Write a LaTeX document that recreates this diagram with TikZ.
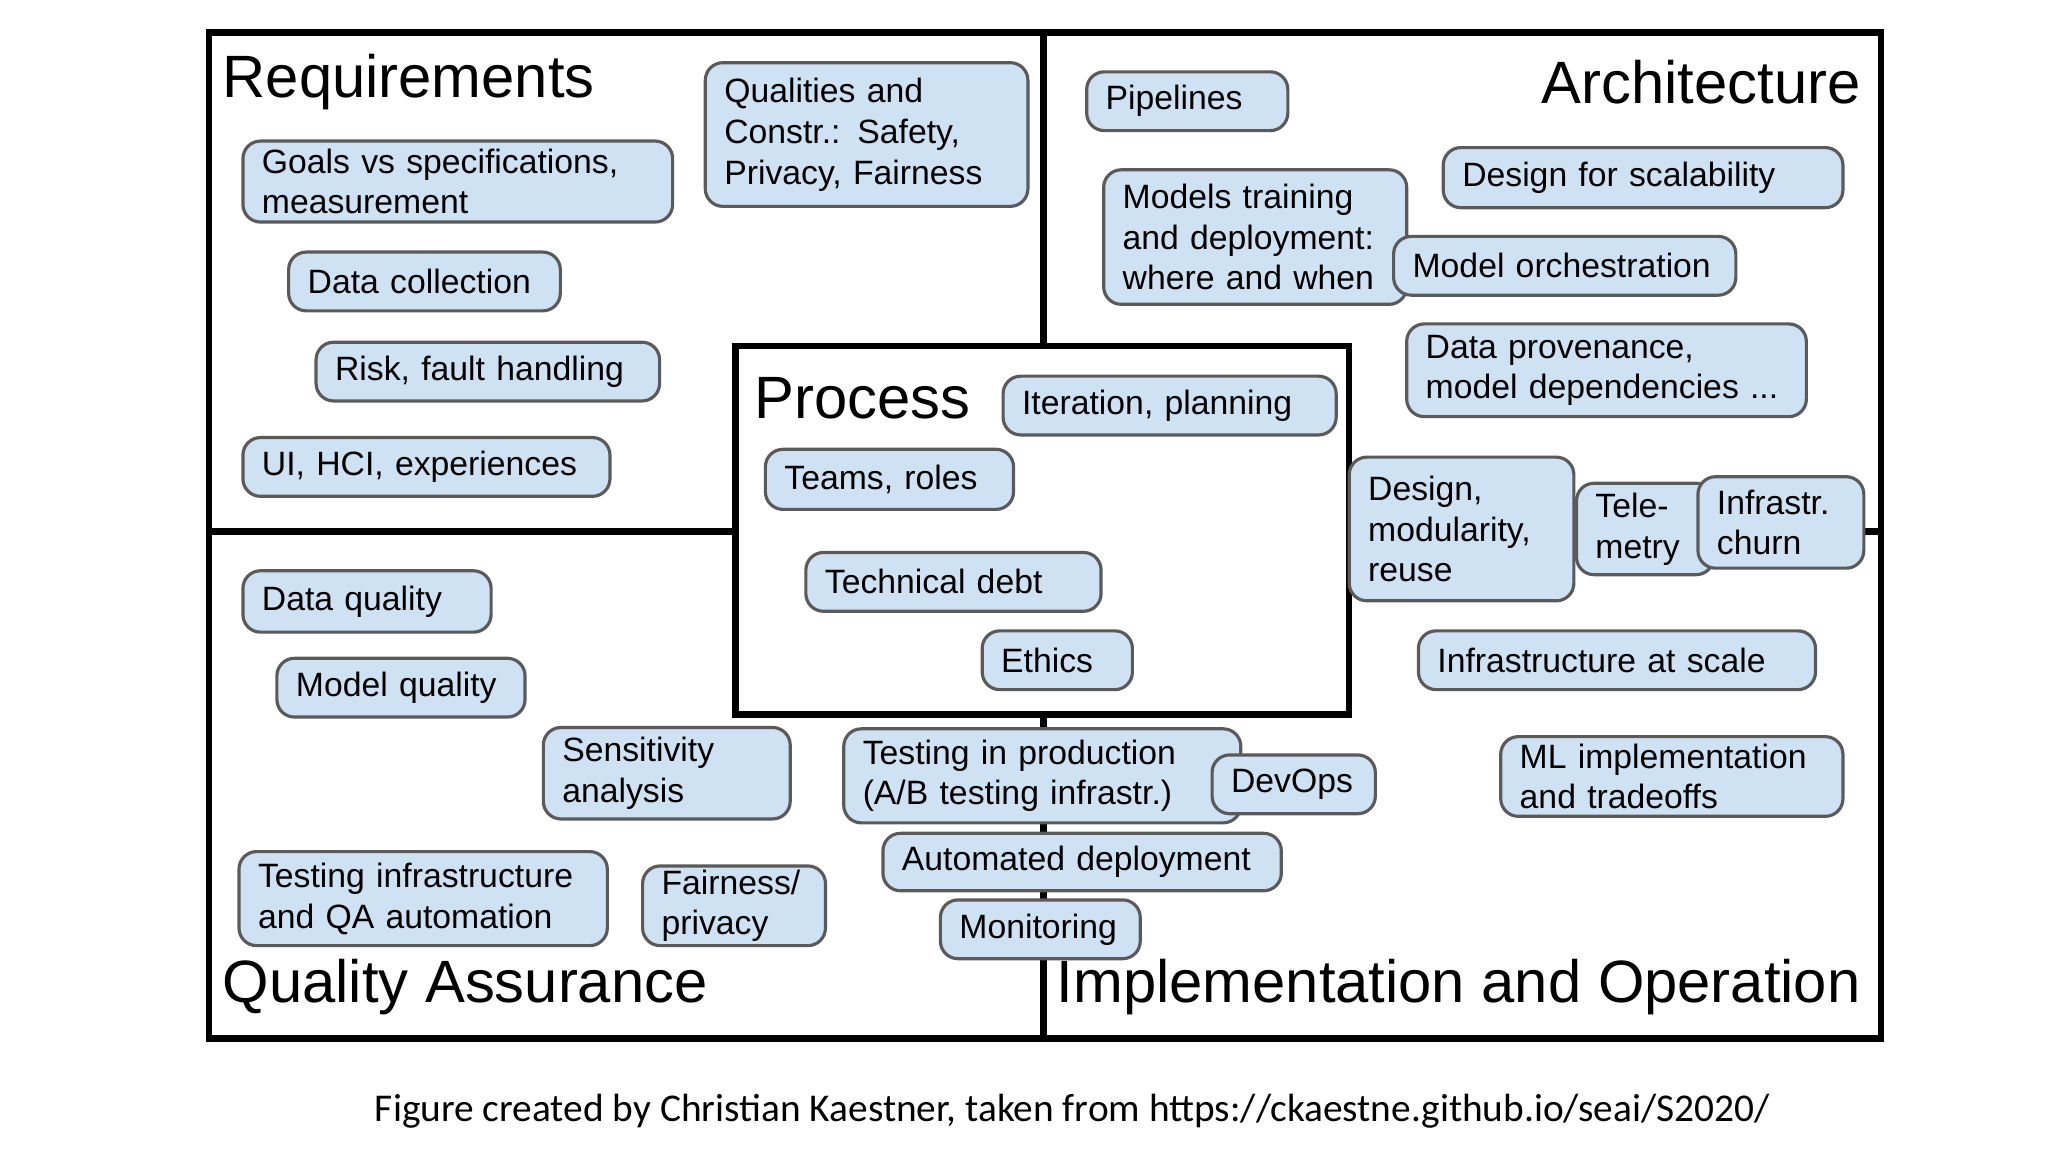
\documentclass[tikz,border=0pt]{standalone}
\usepackage{fontspec}
\setmainfont{Liberation Sans}
\newfontfamily\capfont{Carlito}
\definecolor{boxblue}{RGB}{207,226,243}
\definecolor{boxline}{RGB}{90,90,90}
\tikzset{
  box/.style={draw=boxline,fill=boxblue,rounded corners=5pt,line width=0.9pt,inner sep=0pt,
    align=left,font=\fontsize{9.6}{11.6}\selectfont},
  ttl/.style={font=\fontsize{17}{20}\selectfont,inner sep=0pt},
  frame/.style={line width=1.8pt}
}
% box from its corners (x1,y1,x2,y2) in picture pixels
\newcommand{\bx}[6]{%
  \pgfmathsetmacro\bw{(#4-#2)*0.01306}%
  \pgfmathsetmacro\bh{(#5-#3)*0.01306}%
  \pgfmathsetmacro\tw{\bw-0.38}%
  \node[box,minimum width=\bw cm,minimum height=\bh cm,text width=\tw cm] (#1) at ({(#2+#4)/2},{(#3+#5)/2}) {#6};}
\begin{document}
\begin{tikzpicture}[x=0.01306cm,y=-0.01306cm]
\useasboundingbox (0,0) rectangle (1568,882);
%% frame
\draw[frame] (160,25) rectangle (1440,795);
\draw[frame] (799,25) -- (799,795);
\draw[frame] (160,407) -- (1440,407);
\draw[frame,fill=white] (563,265) rectangle (1033,547);
%% titles
\node[ttl,anchor=west] (req) at (170,63) {Requirements};
\node[ttl,anchor=east] (arch) at (1425,63) {Architecture};
\node[ttl,anchor=west] (proc) at (577,305) {Process};
\node[ttl,anchor=west] (qa) at (170,756) {Quality Assurance};
\node[ttl,anchor=east] (impl) at (1425,756) {Implementation and Operation};
%% requirements
\bx{goals}{186}{108}{515}{170}{Goals vs specifications,\\measurement}
\bx{qual}{540}{48}{787}{158}{Qualities and\\Constr.: Safety,\\Privacy, Fairness}
\bx{datacoll}{221}{193}{429}{238}{Data collection}
\bx{risk}{242}{262}{505}{307}{Risk, fault handling}
\bx{ui}{186}{335}{467}{380}{UI, HCI, experiences}
%% architecture
\bx{pipe}{832}{55}{986}{100}{Pipelines}
\bx{train}{845}{130}{1077}{233}{Models training\\and deployment:\\where and when}
\bx{scal}{1105}{113}{1411}{159}{Design for scalability}
\bx{orch}{1067}{181}{1329}{226}{Model orchestration}
\bx{prov}{1077}{248}{1383}{319}{Data provenance,\\model dependencies ...}
%% process
\bx{iter}{768}{288}{1023}{333}{Iteration, planning}
\bx{teams}{586}{344}{776}{390}{Teams, roles}
\bx{debt}{617}{423}{843}{468}{Technical debt}
\bx{ethics}{752}{483}{867}{528}{Ethics}
%% implementation and operation
\bx{modul}{1033}{350}{1205}{460}{Design,\\modularity,\\reuse}
\bx{tele}{1207}{370}{1312}{440}{Tele-\\metry}
\bx{churn}{1300}{365}{1427}{435}{Infrastr.\\churn}
\bx{infra}{1086}{483}{1390}{528}{Infrastructure at scale}
\bx{mlimpl}{1149}{564}{1411}{625}{ML implementation\\and tradeoffs}
\bx{testprod}{646}{558}{950}{630}{Testing in production\\(A/B testing infrastr.)}
\bx{devops}{928}{578}{1053}{623}{DevOps}
\bx{autodep}{676}{638}{981}{682}{Automated deployment}
\bx{monit}{720}{689}{873}{734}{Monitoring}
%% quality assurance
\bx{dataq}{186}{437}{376}{484}{Data quality}
\bx{modelq}{212}{504}{402}{549}{Model quality}
\bx{sens}{416}{557}{605}{627}{Sensitivity\\analysis}
\bx{testinf}{183}{652}{465}{724}{Testing infrastructure\\and QA automation}
\bx{fair}{492}{663}{632}{724}{Fairness/\\privacy}
%% caption
\node[font=\capfont\fontsize{11.2}{13}\selectfont,inner sep=0pt] (cap) at (821,851)
  {Figure created by Christian Kaestner, taken from https://ckaestne.github.io/seai/S2020/};
\end{tikzpicture}
\end{document}
